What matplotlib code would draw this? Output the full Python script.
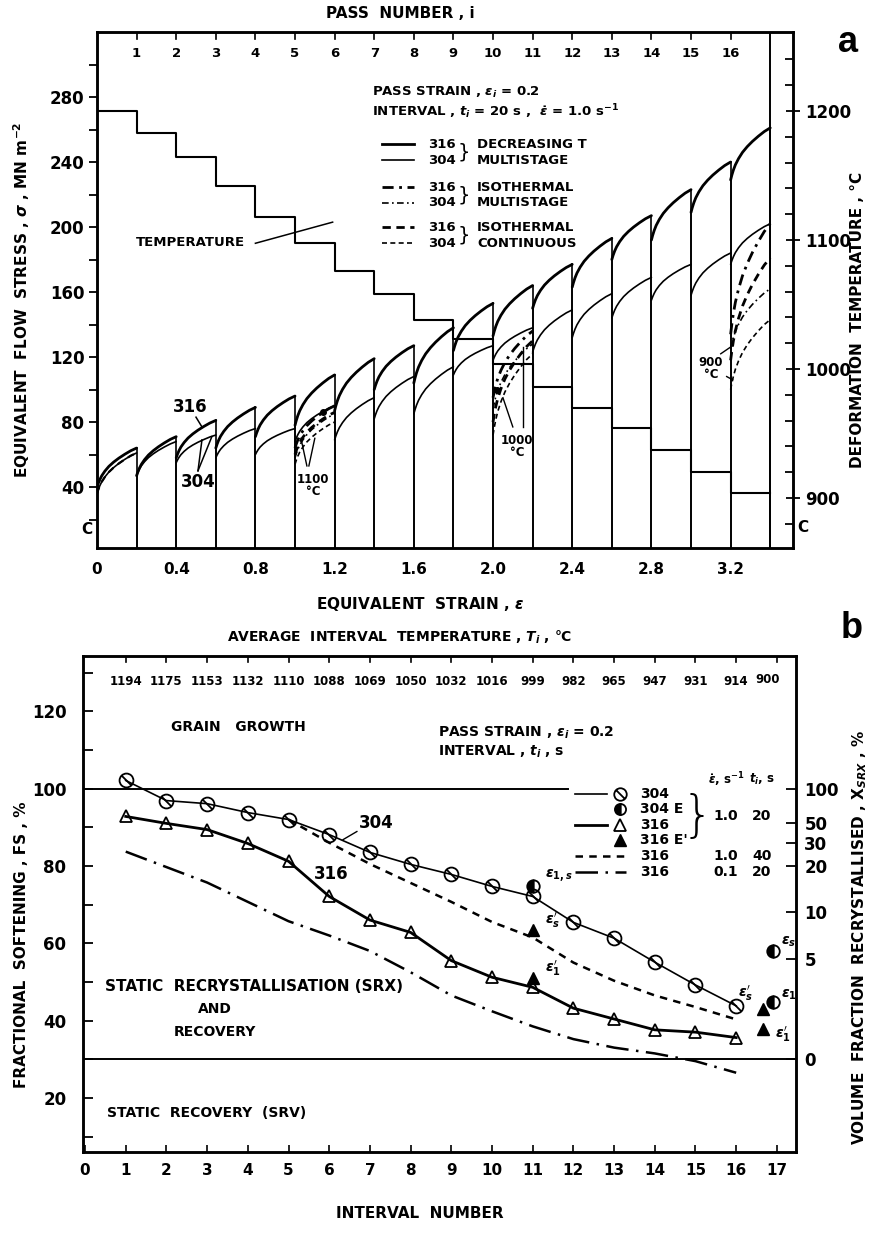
import numpy as np
import matplotlib.pyplot as plt
from matplotlib.path import Path

plt.rcParams['font.family'] = ['DejaVu Sans']
plt.rcParams['font.weight'] = 'bold'
plt.rcParams['mathtext.fontset'] = 'dejavusans'

W, H = 876, 1245

#%% Panel a: multistage flow curves
pass_no = np.arange(1, 18)
pass_temp = [1200, 1183, 1164, 1142, 1118, 1098, 1076, 1058, 1038, 1023,
             1004, 986, 970, 954, 937, 920, 904]
s316_start = [40, 47, 58, 64, 71, 78, 87, 100, 104, 124, 133, 150, 163, 180, 192, 209, 229]
s316_end = [64, 71, 81, 89, 96, 109, 119, 127, 138, 153, 164, 177, 193, 207, 223, 240, 261]
s304_start = [36, 47, 55, 58, 60, 68, 69, 82, 85, 109, 118, 123, 132, 144, 155, 158, 177]
s304_end = [61, 68, 72, 76, 76, 90, 95, 108, 114, 127, 138, 149, 159, 169, 177, 184, 202]

# hardening profile inside one pass: fraction of pass strain / fraction of stress rise
hard_t = [0, 0.03, 0.07, 0.12, 0.2, 0.3, 0.42, 0.55, 0.7, 0.85, 1.0]
hard_f = [0, 0.09, 0.19, 0.29, 0.41, 0.53, 0.64, 0.74, 0.84, 0.93, 1.0]

# isothermal tests laid over the pass at the matching temperature
iso_label = ['1100\n°C', '1000\n°C', '900\n°C']
iso_e0 = [1.0, 2.0, 3.2]
iso_316_ms = [(64, 90), (95, 136), (134, 202)]
iso_304_ms = [(58, 85), (88, 128), (125, 162)]
iso_316_ct = [(60, 86), (80, 130), (118, 181)]
iso_304_ct = [(54, 80), (72, 122), (100, 143)]
cont_1200 = (36, 61)

strain_ticks = [0, 0.4, 0.8, 1.2, 1.6, 2.0, 2.4, 2.8, 3.2]

#%% Panel b: fractional softening
interval = np.arange(1, 17)
avg_temp = [1194, 1175, 1153, 1132, 1110, 1088, 1069, 1050, 1032, 1016,
            999, 982, 965, 947, 931, 914]
fs_304 = [102.1, 96.9, 96.1, 93.8, 92.0, 88.1, 83.5, 80.4, 77.8, 74.7,
          72.1, 65.4, 61.3, 55.1, 49.2, 43.8]
fs_316 = [92.8, 91.0, 89.4, 85.8, 81.2, 72.1, 66.0, 62.8, 55.5, 51.2,
          48.6, 43.2, 40.4, 37.6, 37.0, 35.6]
int_40s = np.arange(5, 17)
fs_316_40s = [92.0, 86.0, 80.5, 75.6, 70.7, 65.5, 61.5, 55.0, 50.3, 46.5, 43.5, 40.3]
fs_316_slow = [83.7, 79.7, 75.7, 70.7, 65.7, 62.0, 58.0, 52.5, 46.5, 42.4,
               38.5, 35.2, 33.0, 31.5, 29.5, 26.5]
# single-pass reference points (E = 304, E' = 316)
e304_x = [11, 16.9, 16.9]
e304_fs = [74.7, 58.0, 44.8]
e316_x = [11, 11, 16.65, 16.65]
e316_fs = [63.4, 51.0, 43.0, 37.8]
xsrx_vals = ['100', '50', '30', '20', '10', '5', '0']
xsrx_fs = [100, 91, 86, 80, 68, 56, 30]


def fx(x):
    return x / W


def fy(y):
    return 1 - y / H


fig = plt.figure(figsize=(W / 100, H / 100), dpi=100)

#%% ---------- panel a ----------
ax = fig.add_axes([fx(97), fy(548), (793 - 97) / W, (548 - 32) / H])
s_lo, s_hi = 2.5, 320
ax.set_xlim(0, 3.515)
ax.set_ylim(s_lo, s_hi)


def flow(e0, s0, s1):
    ex = [e0 + 0.2 * t for t in hard_t]
    sy = [s0 + (s1 - s0) * f for f in hard_f]
    return ex, sy


for i in range(17):
    e0 = 0.2 * i
    for st, en, lw in ((s316_start, s316_end, 2.0), (s304_start, s304_end, 1.2)):
        ex, sy = flow(e0, st[i], en[i])
        ax.plot(ex, sy, color='k', lw=lw, solid_capstyle='round')
    ax.plot([e0, e0], [s_lo, s316_start[i]], color='k', lw=1.2)
    ax.plot([e0 + 0.2, e0 + 0.2], [s_lo, s316_end[i]], color='k', lw=1.2)

ex, sy = flow(0, *cont_1200)
ax.plot(ex, sy, color='k', lw=1.6, ls=(0, (3, 2.5)))

for k in range(3):
    e0 = iso_e0[k]
    ex, sy = flow(e0, *iso_316_ms[k])
    ax.plot(ex, sy, color='k', lw=2.0, ls=(0, (4, 2, 1, 2)))
    ex, sy = flow(e0, *iso_304_ms[k])
    ax.plot(ex, sy, color='k', lw=1.2, ls=(0, (4, 2, 1, 2)))
    ex, sy = flow(e0, *iso_316_ct[k])
    ax.plot(ex, sy, color='k', lw=2.0, ls=(0, (3, 2)))
    ex, sy = flow(e0, *iso_304_ct[k])
    ax.plot(ex, sy, color='k', lw=1.2, ls=(0, (3, 2)))
ax.plot([1.14], [86], 'ko', ms=4)
ax.plot([2.02], [100], 'ko', ms=4)

ax.axvline(3.4, color='k', lw=1.4)

# temperature schedule on the right hand scale
ax_t = ax.twinx()
ax_t.set_ylim(861.2, 1261.2)
edges = [0.2 * i for i in range(18)]
ax_t.step(edges, pass_temp + [pass_temp[-1]], where='post', color='k', lw=1.5)
ax_t.set_yticks([900, 1000, 1100, 1200])
ax_t.set_yticks(np.arange(880, 1260, 20), minor=True)
ax_t.tick_params(axis='y', which='major', direction='inout', length=10, width=1.3,
                 labelsize=12, pad=4)
ax_t.tick_params(axis='y', which='minor', direction='in', length=6, width=1.3)

ax.set_yticks(np.arange(40, 281, 40))
ax.set_yticks(np.arange(20, 320, 40), minor=True)
ax.tick_params(axis='y', which='both', direction='out', length=6, width=1.3,
               labelsize=12, pad=3)
ax.set_xticks(strain_ticks)
ax.set_xticklabels(['0', '0.4', '0.8', '1.2', '1.6', '2.0', '2.4', '2.8', '3.2'])
ax.tick_params(axis='x', direction='in', length=0, labelsize=11, pad=10)
for sp in list(ax.spines.values()) + list(ax_t.spines.values()):
    sp.set_linewidth(1.8)

# pass numbers along the top, inside the frame
for n in range(1, 17):
    ax.plot([0.2 * n, 0.2 * n], [s_hi, s_hi - 4], color='k', lw=1.2)
    ax.text(0.2 * n, 306.5, str(n), ha='center', va='center', fontsize=9.5)

# key
ax.text(1.39, 283, r'PASS STRAIN , $\epsilon_i$ = 0.2', fontsize=9.5, va='center')
ax.text(1.39, 271, r'INTERVAL , $t_i$ = 20 s ,  $\dot{\epsilon}$ = 1.0 s$^{-1}$',
        fontsize=9.5, va='center')
key_y = [251, 241, 224.6, 215, 200, 190]
key_ls = ['-', '-', (0, (4, 2, 1, 2)), (0, (4, 2, 1, 2)), (0, (3, 2)), (0, (3, 2))]
key_lw = [2.0, 1.2, 2.0, 1.2, 2.0, 1.2]
key_txt = ['DECREASING T', 'MULTISTAGE', 'ISOTHERMAL', 'MULTISTAGE', 'ISOTHERMAL', 'CONTINUOUS']
for j in range(6):
    ax.plot([1.44, 1.60], [key_y[j]] * 2, color='k', lw=key_lw[j], ls=key_ls[j])
    ax.text(1.67, key_y[j], ['316', '304'][j % 2], fontsize=9.5, va='center')
    ax.text(1.92, key_y[j], key_txt[j], fontsize=9.5, va='center')
for j in range(0, 6, 2):
    ax.text(1.85, (key_y[j] + key_y[j + 1]) / 2, '}', fontsize=14, va='center',
            ha='center', fontweight='normal')

ax.text(0.47, 190.5, 'TEMPERATURE', fontsize=9.5, ha='center', va='center')
ax.plot([0.80, 1.19], [190, 203], color='k', lw=1.1)

ax.text(0.47, 89, '316', fontsize=12, ha='center', va='center')
ax.plot([0.50, 0.53], [83, 77], color='k', lw=1.1)
ax.text(0.51, 43, '304', fontsize=12, ha='center', va='center')
ax.plot([0.51, 0.53], [50, 69], color='k', lw=1.1)
ax.plot([0.51, 0.58], [50, 71], color='k', lw=1.1)

lab_pos = [(1.09, 41), (2.12, 65), (3.10, 113)]
for k in range(3):
    ax.text(lab_pos[k][0], lab_pos[k][1], iso_label[k], fontsize=8.5, ha='center',
            va='center', linespacing=0.95)
ax.plot([1.06, 1.03], [53, 70], color='k', lw=1.0)
ax.plot([1.07, 1.10], [53, 70], color='k', lw=1.0)
ax.plot([2.15, 2.15], [77, 126], color='k', lw=1.0)
ax.plot([2.10, 2.05], [77, 95], color='k', lw=1.0)
ax.plot([3.15, 3.21], [122, 127], color='k', lw=1.0)
ax.plot([3.18, 3.21], [108, 106], color='k', lw=1.0)

fig.text(fx(87), fy(530), 'C', fontsize=11, ha='center', va='center')
fig.text(fx(803), fy(528), 'C', fontsize=11, ha='center', va='center')
fig.text(fx(400), fy(14), 'PASS  NUMBER , i', fontsize=11, ha='center', va='center')
fig.text(fx(420), fy(604), r'EQUIVALENT  STRAIN , $\epsilon$', fontsize=11,
         ha='center', va='center')
fig.text(fx(22), fy(300), r'EQUIVALENT  FLOW  STRESS , $\sigma$ , MN m$^{-2}$',
         fontsize=11, rotation=90, ha='center', va='center')
fig.text(fx(858), fy(320), 'DEFORMATION  TEMPERATURE , °C', fontsize=11,
         rotation=90, ha='center', va='center')
fig.text(fx(848), fy(42), 'a', fontsize=26, family='Liberation Sans',
         fontweight='bold', ha='center', va='center')

#%% ---------- panel b ----------
bx = fig.add_axes([fx(83), fy(1152), (796 - 83) / W, (1152 - 656) / H])
f_lo, f_hi = 6, 134.3
bx.set_xlim(-0.05, 17.47)
bx.set_ylim(f_lo, f_hi)

bx.plot([-0.05, 11.87], [100, 100], color='k', lw=1.4)
bx.axhline(30, color='k', lw=1.4)

circ = Path.unit_circle()
slashed = Path.make_compound_path(
    circ, Path([(-0.7, 0.7), (0.7, -0.7)], [Path.MOVETO, Path.LINETO]))

bx.plot(interval, fs_304, color='k', lw=1.2, marker=slashed, ms=10,
        mfc='none', mec='k', mew=1.3)
bx.plot(interval, fs_316, color='k', lw=2.0, marker='^', ms=8,
        mfc='none', mec='k', mew=1.3)
bx.plot(int_40s, fs_316_40s, color='k', lw=1.8, ls=(0, (3, 2.5)))
bx.plot(interval, fs_316_slow, color='k', lw=1.8, ls=(0, (9, 3, 1, 3)))
bx.plot(e304_x, e304_fs, ls='none', marker='o', ms=9, fillstyle='left',
        mfc='k', mec='k', mew=1.3)
bx.plot(e316_x, e316_fs, ls='none', marker='^', ms=8, mfc='k', mec='k')

bx.text(11.3, 77, r'$\epsilon_{1,s}$', fontsize=10)
bx.text(11.3, 65, r"$\epsilon_s'$", fontsize=10)
bx.text(11.3, 52.5, r"$\epsilon_1'$", fontsize=10)
bx.text(17.1, 59.7, r'$\epsilon_s$', fontsize=10)
bx.text(16.05, 46, r"$\epsilon_s'$", fontsize=10)
bx.text(17.1, 46, r'$\epsilon_1$', fontsize=10)
bx.text(16.95, 35.5, r"$\epsilon_1'$", fontsize=10)

bx.text(7.15, 91.2, '304', fontsize=12, ha='center', va='center')
bx.plot([6.34, 6.68], [86.8, 88.9], color='k', lw=1.0)
bx.text(6.04, 77.8, '316', fontsize=12, ha='center', va='center')

bx.text(3.76, 116, 'GRAIN   GROWTH', fontsize=10, ha='center', va='center')
bx.text(8.67, 114.5, r'PASS STRAIN , $\epsilon_i$ = 0.2', fontsize=10, va='center')
bx.text(8.67, 109.5, r'INTERVAL , $t_i$ , s', fontsize=10, va='center')
bx.text(0.5, 48.9, 'STATIC  RECRYSTALLISATION (SRX)', fontsize=11, va='center')
bx.text(3.2, 43.0, 'AND', fontsize=10, ha='center', va='center')
bx.text(3.2, 37.0, 'RECOVERY', fontsize=10, ha='center', va='center')
bx.text(3.0, 16.0, 'STATIC  RECOVERY  (SRV)', fontsize=10, ha='center', va='center')

# key
row_fs = [98.5, 94.6, 90.7, 86.8, 82.5, 78.3]
bx.plot([12.04, 12.83], [row_fs[0]] * 2, color='k', lw=1.2)
bx.plot([13.15], [row_fs[0]], marker=slashed, ms=9, mfc='none', mec='k', mew=1.3)
bx.plot([13.15], [row_fs[1]], marker='o', ms=8, fillstyle='left', mfc='k', mec='k', mew=1.3)
bx.plot([12.04, 12.83], [row_fs[2]] * 2, color='k', lw=2.0)
bx.plot([13.15], [row_fs[2]], marker='^', ms=8, mfc='none', mec='k', mew=1.3)
bx.plot([13.15], [row_fs[3]], marker='^', ms=8, mfc='k', mec='k')
bx.plot([12.04, 13.3], [row_fs[4]] * 2, color='k', lw=1.8, ls=(0, (3, 2.5)))
bx.plot([12.04, 13.3], [row_fs[5]] * 2, color='k', lw=1.8, ls=(0, (9, 3, 1, 3)))
for j, t in enumerate(['304', '304 E', '316', "316 E'", '316', '316']):
    bx.text(13.64, row_fs[j], t, fontsize=10, va='center')
bx.text(15.04, 92.6, '}', fontsize=36, ha='center', va='center', fontweight='light')
bx.text(15.75, 102.3, r'$\dot{\epsilon}$, s$^{-1}$', fontsize=8.5, ha='center', va='center')
bx.text(16.63, 102.3, r'$t_i$, s', fontsize=8.5, ha='center', va='center')
for fsv, a, b in ((92.8, '1.0', '20'), (82.5, '1.0', '40'), (78.3, '0.1', '20')):
    bx.text(15.75, fsv, a, fontsize=10, ha='center', va='center')
    bx.text(16.63, fsv, b, fontsize=10, ha='center', va='center')

bx.set_yticks([20, 40, 60, 80, 100, 120])
bx.set_yticks(np.arange(10, 131, 20), minor=True)
bx.tick_params(axis='y', which='both', direction='in', length=7, width=1.3,
               labelsize=12, pad=12)
bx.set_xticks(range(18))
bx.tick_params(axis='x', direction='in', length=5, width=1.2, labelsize=11, pad=8)
for sp in bx.spines.values():
    sp.set_linewidth(1.8)

for n in range(1, 18):
    bx.plot([n, n], [f_hi, f_hi - 1.6], color='k', lw=1.2)
for n, t in zip(interval, avg_temp):
    bx.text(n, 127.6, str(t), fontsize=8.5, ha='center', va='center')
bx.text(16.78, 128.1, '900', fontsize=8.5, ha='center', va='center')

bx_r = bx.twinx()
bx_r.set_ylim(f_lo, f_hi)
bx_r.set_yticks(xsrx_fs)
bx_r.set_yticklabels(xsrx_vals)
bx_r.tick_params(axis='y', direction='in', length=7, width=1.3, labelsize=12, pad=6)
for sp in bx_r.spines.values():
    sp.set_linewidth(1.8)

fig.text(fx(400), fy(637), r'AVERAGE  INTERVAL  TEMPERATURE , $T_i$ , °C',
         fontsize=10, ha='center', va='center')
fig.text(fx(420), fy(1213), 'INTERVAL  NUMBER', fontsize=11, ha='center', va='center')
fig.text(fx(22), fy(945), 'FRACTIONAL  SOFTENING , FS , %', fontsize=11,
         rotation=90, ha='center', va='center')
fig.text(fx(860), fy(937), r'VOLUME  FRACTION  RECRYSTALLISED , X$_{SRX}$ , %',
         fontsize=11, rotation=90, ha='center', va='center')
fig.text(fx(852), fy(628), 'b', fontsize=26, family='Liberation Sans',
         fontweight='bold', ha='center', va='center')

fig.savefig('out.png', dpi=100)
